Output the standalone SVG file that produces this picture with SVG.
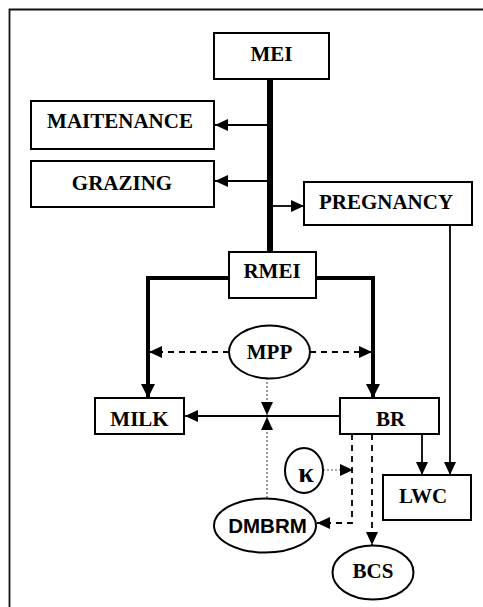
<svg xmlns="http://www.w3.org/2000/svg" width="483" height="607" viewBox="0 0 483 607">
<style>
.box{fill:#fff;stroke:#000;stroke-width:2}
.t{font-family:"Liberation Serif","Times New Roman",serif;font-weight:bold;font-size:21px;text-anchor:middle;fill:#000}
.s{font-family:"Liberation Sans",Arial,sans-serif;font-weight:bold;font-size:20.5px;text-anchor:middle;fill:#000}
.ln{fill:none;stroke:#000;stroke-width:1.8}
.thick{fill:none;stroke:#000;stroke-width:4}
.dash{fill:none;stroke:#000;stroke-width:1.8;stroke-dasharray:6,5}
.dot{fill:none;stroke:#555;stroke-width:1.2;stroke-dasharray:2,2}
</style>
<defs>
<marker id="ah" markerUnits="userSpaceOnUse" viewBox="0 0 13 12" refX="13" refY="6" markerWidth="13" markerHeight="12" orient="auto"><path d="M0,0 L13,6 L0,12 z" fill="#000"/></marker>
<marker id="ahb" markerUnits="userSpaceOnUse" viewBox="0 0 14 14" refX="14" refY="7" markerWidth="14" markerHeight="14" orient="auto"><path d="M0,0 L14,7 L0,14 z" fill="#000"/></marker>
</defs>
<path d="M9.5,607 V9.5 H483" fill="none" stroke="#111" stroke-width="1.8"/>
<g id="connectors">
<line x1="270" y1="79" x2="270" y2="252" stroke="#000" stroke-width="6"/>
<line class="ln" x1="268" y1="125" x2="215" y2="125" marker-end="url(#ah)"/>
<line class="ln" x1="268" y1="181" x2="215" y2="181" marker-end="url(#ah)"/>
<line class="ln" x1="273" y1="206" x2="304" y2="206" marker-end="url(#ah)"/>
<line class="ln" x1="450" y1="225" x2="450" y2="475" marker-end="url(#ah)"/>
<path class="thick" d="M229,278 H148 V398" marker-end="url(#ahb)"/>
<path class="thick" d="M316,278 H373 V398" marker-end="url(#ahb)"/>
<line class="dash" x1="229" y1="352" x2="149" y2="352" marker-end="url(#ah)"/>
<line class="dash" x1="310" y1="352" x2="372" y2="352" marker-end="url(#ah)"/>
<line class="dot" x1="267" y1="378" x2="267" y2="415" marker-end="url(#ah)"/>
<line class="ln" x1="340" y1="416" x2="185" y2="416" marker-end="url(#ah)"/>
<line class="dot" x1="267" y1="498" x2="267" y2="417" marker-end="url(#ah)"/>
<line class="dot" x1="323" y1="470" x2="353" y2="470" marker-end="url(#ah)"/>
<path class="dash" d="M352,434 V523 H317" marker-end="url(#ah)"/>
<line class="dash" x1="372" y1="434" x2="372" y2="545" marker-end="url(#ah)"/>
<line class="ln" x1="422" y1="434" x2="422" y2="475" marker-end="url(#ah)"/>
</g>
<g id="mei"><rect class="box" x="214" y="33" width="115" height="46"/><text class="t" x="271.5" y="61">MEI</text></g>
<g id="maitenance"><rect class="box" x="31" y="101" width="183" height="48"/><text class="t" x="120" y="128">MAITENANCE</text></g>
<g id="grazing"><rect class="box" x="31" y="161" width="183" height="46"/><text class="t" x="122" y="190">GRAZING</text></g>
<g id="pregnancy"><rect class="box" x="304" y="182" width="168" height="43"/><text class="t" x="386" y="208.5">PREGNANCY</text></g>
<g id="rmei"><rect class="box" x="229" y="252" width="87" height="46"/><text class="t" x="272" y="278">RMEI</text></g>
<g id="mpp"><ellipse class="box" cx="269.5" cy="352" rx="40.5" ry="26.5"/><text class="t" x="269.5" y="359">MPP</text></g>
<g id="milk"><rect class="box" x="95" y="398" width="89" height="36"/><text class="t" x="139.5" y="426">MILK</text></g>
<g id="br"><rect class="box" x="340" y="398" width="99" height="36"/><text class="t" x="390.5" y="426">BR</text></g>
<g id="kappa"><ellipse class="box" cx="304" cy="470.5" rx="19" ry="22.5"/><text class="t" x="306" y="482" style="font-size:28px">κ</text></g>
<g id="lwc"><rect class="box" x="383" y="475" width="88" height="45"/><text class="t" x="423" y="503">LWC</text></g>
<g id="dmbrm"><ellipse class="box" cx="265" cy="525.5" rx="51" ry="27"/><text class="s" x="267.5" y="533">DMBRM</text></g>
<g id="bcs"><ellipse class="box" cx="373" cy="572.5" rx="40.5" ry="27"/><text class="t" x="373" y="578">BCS</text></g>
</svg>
